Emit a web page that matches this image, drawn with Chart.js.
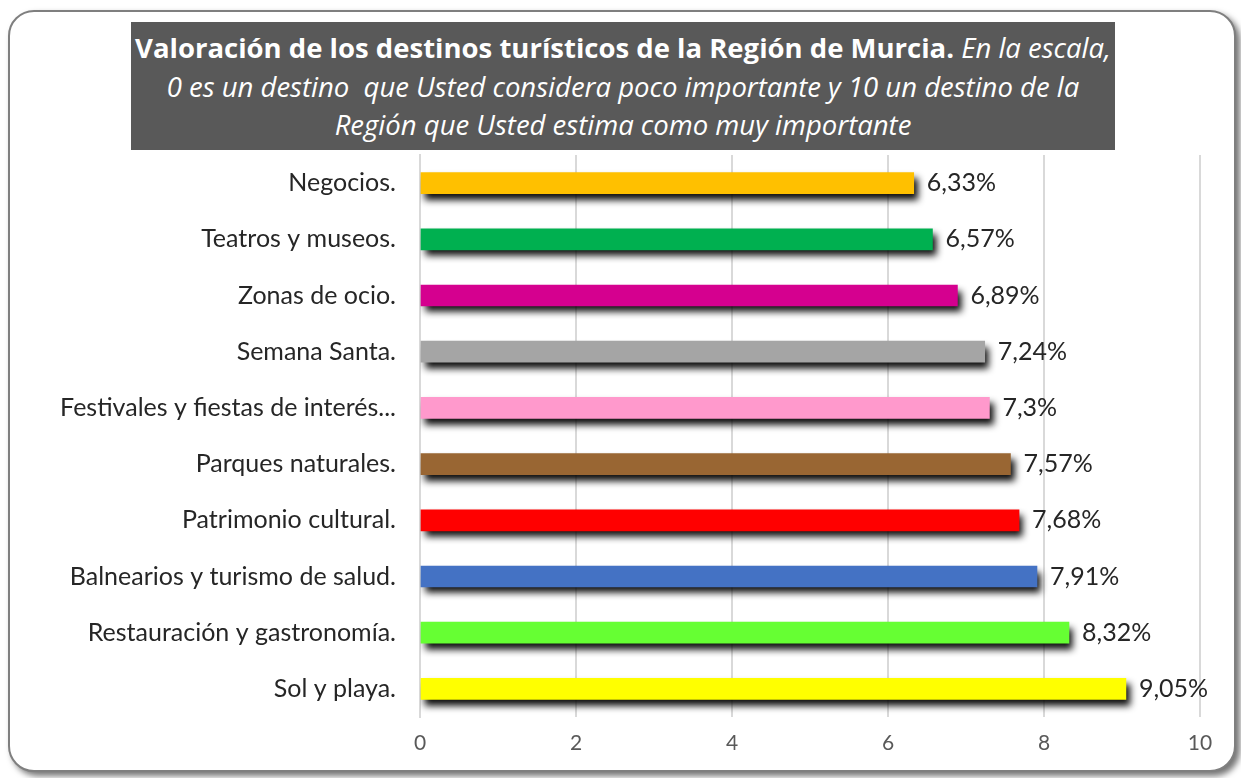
<!DOCTYPE html>
<html>
<head>
<meta charset="utf-8">
<script src="https://cdn.jsdelivr.net/npm/chart.js@4"></script>
<style>
  body { margin: 0; background: #fff; }
  #wrap { position: relative; width: 1241px; height: 778px; overflow: hidden; }
  #frame {
    position: absolute; left: 8px; top: 10px; width: 1224px; height: 758px;
    border: 2px solid #7f7f7f; border-radius: 26px; background: #fff;
    box-shadow: 4px 4px 6px rgba(0,0,0,0.55);
  }
  #title {
    position: absolute; left: 131px; top: 22px; width: 984px; height: 128px;
    background: #595959; color: #fff; text-align: center;
    font-family: "Open Sans", sans-serif; font-size: 27.5px; line-height: 38.5px;
    padding-top: 7px; box-sizing: border-box; white-space: nowrap;
  }
  #title b { font-weight: bold; }
  #title i { font-style: italic; }
  canvas { position: absolute; left: 0; top: 0; }
</style>
</head>
<body>
<div id="wrap">
  <div id="frame"></div>
  <canvas id="chart" width="1241" height="778"></canvas>
  <div id="title"><b>Valoración de los destinos turísticos de la Región de Murcia.</b> <i>En la escala,<br>0 es un destino&nbsp; que Usted considera poco importante y 10 un destino de la<br>Región que Usted estima como muy importante</i></div>
</div>
<script>
const destinos = ['Negocios.', 'Teatros y museos.', 'Zonas de ocio.', 'Semana Santa.',
  'Festivales y fiestas de interés...', 'Parques naturales.', 'Patrimonio cultural.',
  'Balnearios y turismo de salud.', 'Restauración y gastronomía.', 'Sol y playa.'];
const valores = [6.33, 6.57, 6.89, 7.24, 7.3, 7.57, 7.68, 7.91, 8.32, 9.05];
const colores = ['#FFC000', '#00B050', '#D5008F', '#A5A5A5', '#FF99CC',
  '#996633', '#FF0000', '#4472C4', '#66FF33', '#FFFF00'];

// sombra oscura bajo cada barra
const sombra = {
  id: 'sombra',
  beforeDatasetsDraw(chart) {
    const ctx = chart.ctx;
    ctx.save();
    ctx.shadowColor = 'rgba(0,0,0,0.95)';
    ctx.shadowOffsetX = 4;
    ctx.shadowOffsetY = 6;
    ctx.shadowBlur = 7;
  },
  afterDatasetsDraw(chart) {
    chart.ctx.restore();
  }
};

const etiquetas = {
  id: 'etiquetas',
  afterDraw(chart) {
    const ctx = chart.ctx;
    const meta = chart.getDatasetMeta(0);
    ctx.save();
    ctx.font = '25px Lato, sans-serif';
    ctx.fillStyle = '#262626';
    ctx.textBaseline = 'middle';
    meta.data.forEach((bar, i) => {
      const txt = String(valores[i]).replace('.', ',') + '%';
      ctx.fillText(txt, bar.x + 13, bar.y);
    });
    ctx.restore();
  }
};

new Chart(document.getElementById('chart'), {
  type: 'bar',
  data: {
    labels: destinos,
    datasets: [{
      data: valores,
      backgroundColor: colores,
      barThickness: 21
    }]
  },
  options: {
    indexAxis: 'y',
    responsive: false,
    animation: false,
    layout: { padding: { top: 155, left: 10, right: 41, bottom: 0 } },
    plugins: { legend: { display: false }, tooltip: { enabled: false } },
    scales: {
      x: {
        min: 0, max: 10,
        ticks: { stepSize: 2, color: '#595959', font: { family: 'Lato', size: 21 }, padding: 14 },
        grid: { color: '#d9d9d9', lineWidth: 2, drawTicks: false },
        border: { display: false },
        afterFit(scale) { scale.height = 61; }
      },
      y: {
        ticks: { color: '#262626', font: { family: 'Lato', size: 25 }, padding: 16 },
        grid: { display: false },
        border: { color: '#d9d9d9', width: 2 },
        afterFit(scale) { scale.width = 410; }
      }
    }
  },
  plugins: [sombra, etiquetas]
});
</script>
</body>
</html>
